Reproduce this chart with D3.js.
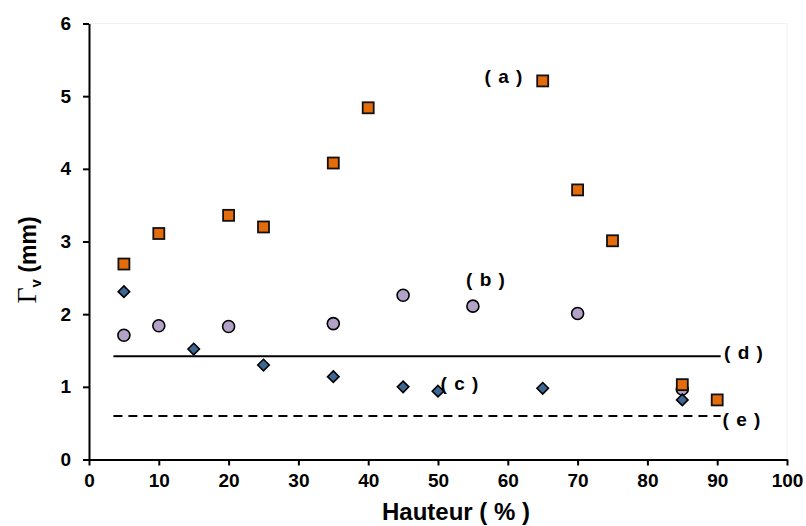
<!DOCTYPE html>
<html>
<head>
<meta charset="utf-8">
<script src="https://cdn.jsdelivr.net/npm/d3@7"></script>
<style>
  body { margin: 0; background: #fff; }
  svg text { font-family: "Liberation Sans", Arial, sans-serif; font-weight: bold; fill: #000; }
</style>
</head>
<body>
<svg id="chart" width="806" height="526"></svg>
<script>
// Series (a): squares
const xA = [5, 10, 20, 25, 35, 40, 65, 70, 75, 85, 90];
const yA = [2.69, 3.11, 3.36, 3.20, 4.08, 4.84, 5.21, 3.71, 3.01, 1.03, 0.82];
// Series (b): circles
const xB = [5, 10, 20, 35, 45, 55, 70, 85];
const yB = [1.71, 1.84, 1.83, 1.87, 2.26, 2.11, 2.01, 0.97];
// Series (c): diamonds
const xC = [5, 15, 25, 35, 45, 50, 65, 85];
const yC = [2.31, 1.52, 1.30, 1.14, 1.00, 0.94, 0.98, 0.82];
// Reference levels (d) solid and (e) dashed
const levelD = 1.42;
const levelE = 0.60;
const levelRange = [3.5, 90.5];
const xTicks = [0, 10, 20, 30, 40, 50, 60, 70, 80, 90, 100];
const yTicks = [0, 1, 2, 3, 4, 5, 6];

const svg = d3.select("#chart");
const plotL = 89, plotR = 787, plotT = 23.5, plotB = 459.5;
const x = d3.scaleLinear().domain([0, 100]).range([plotL, plotR]);
const y = d3.scaleLinear().domain([0, 6]).range([plotB, plotT]);

// faint plot-area frame
svg.append("rect").attr("x", plotL).attr("y", plotT)
  .attr("width", plotR - plotL).attr("height", plotB - plotT)
  .attr("fill", "none").attr("stroke", "#f0f0f0").attr("stroke-width", 1);

// axes
const fmt = d3.format("d");
const xAxis = svg.append("g").attr("transform", `translate(0,${plotB})`)
  .call(d3.axisBottom(x).tickValues(xTicks).tickFormat(fmt).tickSize(6).tickSizeOuter(0).tickPadding(8));
const yAxis = svg.append("g").attr("transform", `translate(${plotL},0)`)
  .call(d3.axisLeft(y).tickValues(yTicks).tickFormat(fmt).tickSize(6).tickSizeOuter(0).tickPadding(12));
[xAxis, yAxis].forEach(g => {
  g.select(".domain").attr("stroke", "#000").attr("stroke-width", 2);
  g.selectAll(".tick line").attr("stroke", "#000").attr("stroke-width", 2);
  g.selectAll(".tick text").style("font-size", "19px")
    .style("font-family", "'Liberation Sans', Arial, sans-serif").style("font-weight", "bold");
});
xAxis.selectAll(".tick text").attr("dy", "0.72em");

// reference lines
svg.append("line")
  .attr("x1", x(levelRange[0])).attr("x2", x(levelRange[1]))
  .attr("y1", y(levelD)).attr("y2", y(levelD))
  .attr("stroke", "#000").attr("stroke-width", 2);
svg.append("line")
  .attr("x1", x(levelRange[0])).attr("x2", x(levelRange[1]))
  .attr("y1", y(levelE)).attr("y2", y(levelE))
  .attr("stroke", "#000").attr("stroke-width", 2).attr("stroke-dasharray", "9,6");

// series (b) circles
svg.append("g").selectAll("circle").data(d3.zip(xB, yB)).join("circle")
  .attr("cx", d => x(d[0])).attr("cy", d => y(d[1])).attr("r", 6)
  .attr("fill", "#B3A2C7").attr("stroke", "#000").attr("stroke-width", 1.6);

// series (a) squares
svg.append("g").selectAll("rect").data(d3.zip(xA, yA)).join("rect")
  .attr("x", d => x(d[0]) - 5.5).attr("y", d => y(d[1]) - 5.5)
  .attr("width", 11).attr("height", 11)
  .attr("fill", "#E46C0A").attr("stroke", "#111").attr("stroke-width", 1.8);

// series (c) diamonds
const dia = d3.symbol().type(d3.symbolDiamond2).size(84);
svg.append("g").selectAll("path").data(d3.zip(xC, yC)).join("path")
  .attr("d", dia)
  .attr("transform", d => `translate(${x(d[0])},${y(d[1])})`)
  .attr("fill", "#3D6896").attr("stroke", "#000").attr("stroke-width", 1.6);

// series labels
const labels = [
  { t: "( a )", cx: 504, cy: 76 },
  { t: "( b )", cx: 486, cy: 279 },
  { t: "( c )", cx: 460, cy: 383 },
  { t: "( d )", cx: 744, cy: 352 },
  { t: "( e )", cx: 742, cy: 419 }
];
svg.append("g").selectAll("text").data(labels).join("text")
  .attr("x", d => d.cx).attr("y", d => d.cy).attr("dy", "0.35em")
  .attr("text-anchor", "middle").style("font-size", "19px")
  .style("letter-spacing", "1px")
  .text(d => d.t);

// axis titles
svg.append("text").attr("x", 456).attr("y", 520)
  .attr("text-anchor", "middle").style("font-size", "24px")
  .text("Hauteur ( % )");

const yt = svg.append("text").attr("transform", "translate(36,260) rotate(-90)")
  .attr("text-anchor", "middle").style("font-size", "23px");
yt.append("tspan").style("font-family", "'Liberation Serif', 'Times New Roman', serif")
  .style("font-weight", "normal").style("font-size", "28px").text("Γ");
yt.append("tspan").attr("dy", "5").style("font-size", "15px").text("v");
yt.append("tspan").attr("dy", "-5").text(" (mm)");
</script>
</body>
</html>
